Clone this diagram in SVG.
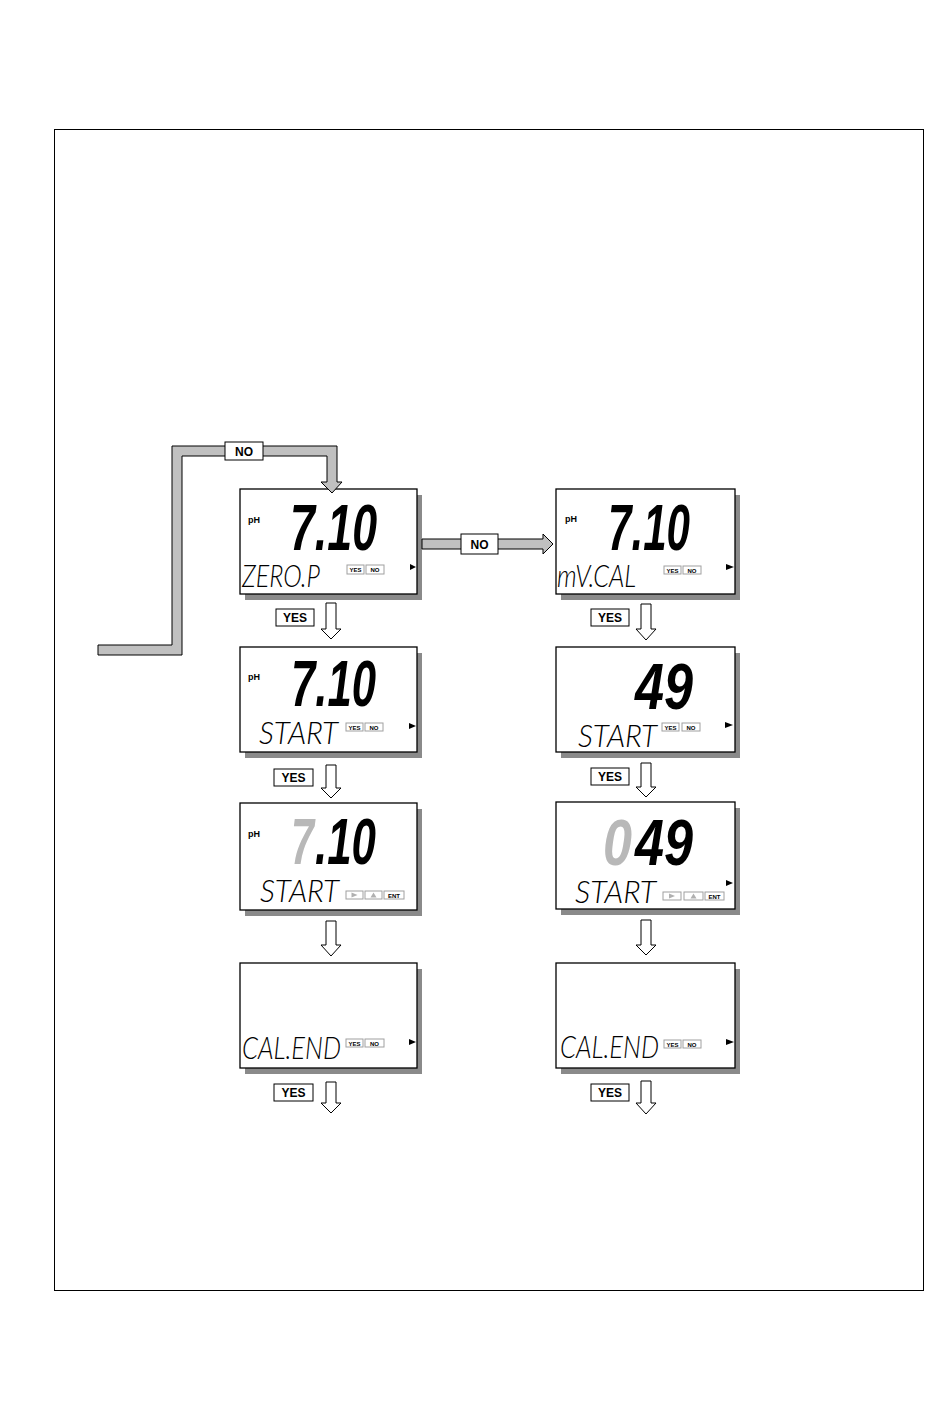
<svg xmlns="http://www.w3.org/2000/svg" width="950" height="1407" viewBox="0 0 950 1407">
<defs>
<style>
.frame{fill:none;stroke:#000;stroke-width:1}
.shadow{fill:#8a8a8a}
.panel{fill:#fff;stroke:#000;stroke-width:1.3}
.ph{font-family:'Liberation Sans',Arial,sans-serif;font-weight:bold;font-size:9px;fill:#000}
.big{font-family:'Liberation Sans',Arial,sans-serif;font-weight:bold;font-style:italic;font-size:40px;fill:#000}
.dim{fill:#b8b8b8}
.seg{font-family:Lato,'Open Sans','DejaVu Sans',sans-serif;font-weight:300;font-style:italic;font-size:24px;fill:#000}
.kb{fill:#fff;stroke:#a0a0a0;stroke-width:1}
.kt{font-family:'Liberation Sans',Arial,sans-serif;font-weight:bold;font-size:6px;text-anchor:middle;fill:#000}
.kg{fill:#b0b0b0}
.tri{fill:#000}
.lbl{fill:#fff;stroke:#000;stroke-width:1}
.lt{font-family:'Liberation Sans',Arial,sans-serif;font-weight:bold;font-size:12px;text-anchor:middle;fill:#000}
.band{fill:#c0c0c0;stroke:#000;stroke-width:1}
.harrow{fill:#fff;stroke:#000;stroke-width:1}
</style>
</defs>
<rect class="frame" x="54.5" y="129.5" width="869" height="1161"/>

<g id="panel-zero-p">
<rect class="shadow" x="245" y="495" width="177" height="105"/>
<rect class="panel" x="240" y="489" width="177" height="105"/>
<text class="ph" x="248" y="523">pH</text>
<text class="big" transform="translate(290,550) scale(1,1.6)" textLength="87" lengthAdjust="spacingAndGlyphs">7.10</text>
<text class="seg" transform="translate(242,587) scale(1,1.333)" textLength="78" lengthAdjust="spacingAndGlyphs">ZERO.P</text>
<rect class="kb" x="347" y="565" width="17" height="9"/><text class="kt" x="355.5" y="572">YES</text>
<rect class="kb" x="366" y="565" width="18" height="9"/><text class="kt" x="375" y="572">NO</text>
<polygon class="tri" points="410,564 416,567 410,570"/>
</g>

<g id="panel-start-1">
<rect class="shadow" x="245" y="653" width="177" height="105"/>
<rect class="panel" x="240" y="647" width="177" height="105"/>
<text class="ph" x="248" y="680">pH</text>
<text class="big" transform="translate(291,706) scale(1,1.6)" textLength="85" lengthAdjust="spacingAndGlyphs">7.10</text>
<text class="seg" transform="translate(259,744) scale(1,1.333)" textLength="79" lengthAdjust="spacingAndGlyphs">START</text>
<rect class="kb" x="346" y="723" width="17" height="8"/><text class="kt" x="354.5" y="729.5">YES</text>
<rect class="kb" x="365" y="723" width="18" height="8"/><text class="kt" x="374" y="729.5">NO</text>
<polygon class="tri" points="409,723 416,726 409,729"/>
</g>

<g id="panel-start-2">
<rect class="shadow" x="245" y="809" width="177" height="107"/>
<rect class="panel" x="240" y="803" width="177" height="107"/>
<text class="ph" x="248" y="837">pH</text>
<text class="big dim" transform="translate(291,864) scale(1,1.6)" textLength="23" lengthAdjust="spacingAndGlyphs">7</text>
<text class="big" transform="translate(315,864) scale(1,1.6)" textLength="61" lengthAdjust="spacingAndGlyphs">.10</text>
<text class="seg" transform="translate(260,902) scale(1,1.333)" textLength="79" lengthAdjust="spacingAndGlyphs">START</text>
<rect class="kb" x="346" y="891" width="17" height="8"/><polygon class="kg" points="351.5,892.5 357.5,895 351.5,897.5"/>
<rect class="kb" x="365" y="891" width="17" height="8"/><polygon class="kg" points="370.5,897.5 373.5,892.5 376.5,897.5"/>
<rect class="kb" x="384" y="891" width="20" height="8"/><text class="kt" x="394" y="897.5">ENT</text>
</g>

<g id="panel-cal-end-1">
<rect class="shadow" x="245" y="969" width="177" height="105"/>
<rect class="panel" x="240" y="963" width="177" height="105"/>
<text class="seg" transform="translate(242,1059) scale(1,1.333)" textLength="99" lengthAdjust="spacingAndGlyphs">CAL.END</text>
<rect class="kb" x="346" y="1039" width="17" height="8"/><text class="kt" x="354.5" y="1045.5">YES</text>
<rect class="kb" x="365" y="1039" width="19" height="8"/><text class="kt" x="374.5" y="1045.5">NO</text>
<polygon class="tri" points="409,1039 416,1042 409,1045"/>
</g>

<g id="panel-mv-cal">
<rect class="shadow" x="561" y="495" width="179" height="105"/>
<rect class="panel" x="556" y="489" width="179" height="105"/>
<text class="ph" x="565" y="522">pH</text>
<text class="big" transform="translate(608,550) scale(1,1.6)" textLength="82" lengthAdjust="spacingAndGlyphs">7.10</text>
<text class="seg" transform="translate(557,587) scale(1,1.333)" textLength="79" lengthAdjust="spacingAndGlyphs">mV.CAL</text>
<rect class="kb" x="664" y="566" width="17" height="8"/><text class="kt" x="672.5" y="572.5">YES</text>
<rect class="kb" x="683" y="566" width="18" height="8"/><text class="kt" x="692" y="572.5">NO</text>
<polygon class="tri" points="726,564 734,567 726,570"/>
</g>

<g id="panel-start-mv-1">
<rect class="shadow" x="561" y="653" width="179" height="105"/>
<rect class="panel" x="556" y="647" width="179" height="105"/>
<text class="big" transform="translate(635,709) scale(1,1.6)" textLength="58" lengthAdjust="spacingAndGlyphs">49</text>
<text class="seg" transform="translate(578,747) scale(1,1.333)" textLength="79" lengthAdjust="spacingAndGlyphs">START</text>
<rect class="kb" x="662" y="723" width="17" height="8"/><text class="kt" x="670.5" y="729.5">YES</text>
<rect class="kb" x="682" y="723" width="18" height="8"/><text class="kt" x="691" y="729.5">NO</text>
<polygon class="tri" points="725,722 733,725 725,728"/>
</g>

<g id="panel-start-mv-2">
<rect class="shadow" x="561" y="808" width="179" height="107"/>
<rect class="panel" x="556" y="802" width="179" height="107"/>
<text class="big dim" transform="translate(603,865) scale(1,1.6)" textLength="29" lengthAdjust="spacingAndGlyphs">0</text>
<text class="big" transform="translate(635,865) scale(1,1.6)" textLength="58" lengthAdjust="spacingAndGlyphs">49</text>
<text class="seg" transform="translate(575,903) scale(1,1.333)" textLength="81" lengthAdjust="spacingAndGlyphs">START</text>
<rect class="kb" x="663" y="892" width="18" height="8"/><polygon class="kg" points="669,893.5 675,896 669,898.5"/>
<rect class="kb" x="684" y="892" width="19" height="8"/><polygon class="kg" points="690.5,898.5 693.5,893.5 696.5,898.5"/>
<rect class="kb" x="705" y="892" width="19" height="8"/><text class="kt" x="714.5" y="898.5">ENT</text>
<polygon class="tri" points="726,880 733,883 726,886"/>
</g>

<g id="panel-cal-end-2">
<rect class="shadow" x="561" y="969" width="179" height="105"/>
<rect class="panel" x="556" y="963" width="179" height="105"/>
<text class="seg" transform="translate(560,1058) scale(1,1.333)" textLength="99" lengthAdjust="spacingAndGlyphs">CAL.END</text>
<rect class="kb" x="664" y="1040" width="17" height="8"/><text class="kt" x="672.5" y="1046.5">YES</text>
<rect class="kb" x="683" y="1040" width="18" height="8"/><text class="kt" x="692" y="1046.5">NO</text>
<polygon class="tri" points="726,1039 734,1042 726,1045"/>
</g>

<g id="connectors">
<polygon class="band" points="98,645 172,645 172,446 337,446 337,482 342,482 332,493 321,482 327,482 327,456 182,456 182,655 98,655"/>
<rect class="lbl" x="225" y="442" width="38" height="18"/><text class="lt" x="244" y="455.5">NO</text>

<polygon class="band" points="422,539 543,539 543,534 553,544 543,554 543,549 422,549"/>
<rect class="lbl" x="461" y="534" width="37" height="20"/><text class="lt" x="479.5" y="548.5">NO</text>

<polygon class="harrow" points="326,603 336,603 336,629 341,629 331,639 321,629 326,629"/>
<rect class="lbl" x="276" y="609" width="38" height="17"/><text class="lt" x="295" y="622">YES</text>

<polygon class="harrow" points="326,765 336,765 336,788 341,788 331,798 321,788 326,788"/>
<rect class="lbl" x="274" y="769" width="39" height="17"/><text class="lt" x="293.5" y="782">YES</text>

<polygon class="harrow" points="326,921 336,921 336,945 341,945 331,956 321,945 326,945"/>

<polygon class="harrow" points="326,1082 336,1082 336,1103 341,1103 331,1113 321,1103 326,1103"/>
<rect class="lbl" x="274" y="1084" width="39" height="17"/><text class="lt" x="293.5" y="1097">YES</text>

<polygon class="harrow" points="641,604 651,604 651,629 656,629 646,640 636,629 641,629"/>
<rect class="lbl" x="591" y="609" width="38" height="17"/><text class="lt" x="610" y="622">YES</text>

<polygon class="harrow" points="641,763 651,763 651,787 656,787 646,797 636,787 641,787"/>
<rect class="lbl" x="591" y="768" width="38" height="17"/><text class="lt" x="610" y="781">YES</text>

<polygon class="harrow" points="641,920 651,920 651,945 656,945 646,955 636,945 641,945"/>

<polygon class="harrow" points="641,1081 651,1081 651,1103 656,1103 646,1114 636,1103 641,1103"/>
<rect class="lbl" x="591" y="1084" width="38" height="17"/><text class="lt" x="610" y="1097">YES</text>
</g>
</svg>
